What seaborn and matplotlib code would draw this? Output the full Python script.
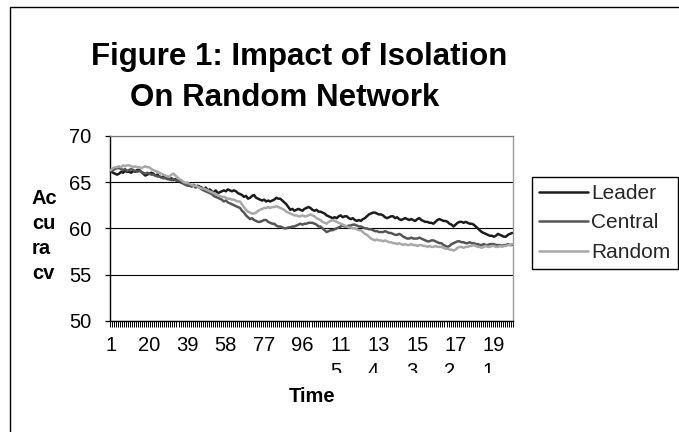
import matplotlib
matplotlib.use("Agg")
import matplotlib.pyplot as plt
import seaborn as sns
import pandas as pd
import numpy as np
from matplotlib.lines import Line2D
from matplotlib.patches import Rectangle
from matplotlib.transforms import Bbox

series_names = ["Leader", "Central", "Random"]
series_colors = ["#1c1c1c", "#555555", "#a8a8a8"]

leader = [
    66.2, 66.0, 65.9, 65.8, 65.9, 66.1, 66.0, 66.2, 66.1, 66.1,
    66.0, 66.2, 66.1, 66.3, 66.3, 66.1, 65.9, 65.7, 65.8, 65.9,
    66.0, 65.9, 65.7, 65.8, 65.6, 65.5, 65.6, 65.4, 65.4, 65.3,
    65.4, 65.2, 65.3, 65.1, 65.1, 64.9, 65.0, 64.8, 64.9, 64.7,
    64.6, 64.7, 64.5, 64.6, 64.5, 64.4, 64.2, 64.4, 64.1, 64.2,
    64.0, 63.9, 64.1, 63.8, 63.9, 64.0, 64.1, 64.0, 64.2, 64.1,
    64.0, 64.1, 64.0, 63.8, 63.7, 63.6, 63.4, 63.5, 63.2, 63.3,
    63.5, 63.6, 63.3, 63.2, 63.1, 63.0, 63.1, 62.9, 63.0, 62.9,
    63.0, 63.1, 63.3, 63.2, 63.2, 63.0, 62.8, 62.6, 62.3, 62.0,
    62.1, 61.9, 62.0, 62.1, 62.0, 61.9, 62.1, 62.2, 62.3, 62.2,
    62.0, 61.9, 62.0, 61.8, 61.8, 61.7, 61.6, 61.4, 61.3, 61.2,
    61.1, 61.2, 61.1, 61.3, 61.4, 61.2, 61.3, 61.3, 61.1, 61.0,
    61.1, 60.9, 60.8, 60.9, 60.8, 61.0, 61.1, 61.3, 61.5, 61.6,
    61.7, 61.7, 61.6, 61.5, 61.5, 61.4, 61.2, 61.1, 61.2, 61.3,
    61.3, 61.1, 61.2, 61.0, 60.9, 61.0, 61.1, 61.0, 60.9, 61.0,
    60.9, 60.8, 61.0, 61.1, 60.9, 60.8, 60.7, 60.7, 60.6, 60.6,
    60.5, 60.7, 60.9, 61.0, 60.9, 60.8, 60.8, 60.7, 60.5, 60.4,
    60.2, 60.4, 60.6, 60.7, 60.7, 60.6, 60.7, 60.6, 60.5, 60.5,
    60.4, 60.2, 60.0, 59.8, 59.6, 59.5, 59.4, 59.3, 59.2, 59.2,
    59.1, 59.2, 59.4, 59.3, 59.2, 59.1, 59.1, 59.3, 59.4, 59.5,
]

central = [
    66.2, 66.3, 66.4, 66.5, 66.5, 66.4, 66.3, 66.4, 66.2, 66.3,
    66.4, 66.3, 66.2, 66.1, 66.2, 66.1, 66.0, 65.9, 66.0, 65.9,
    65.8, 65.8, 65.7, 65.6, 65.6, 65.5, 65.4, 65.5, 65.3, 65.3,
    65.2, 65.3, 65.2, 65.1, 65.2, 65.0, 64.8, 64.7, 64.6, 64.6,
    64.5, 64.6, 64.4, 64.5, 64.4, 64.2, 64.1, 64.0, 63.9, 63.8,
    63.7, 63.5, 63.4, 63.3, 63.2, 63.1, 62.9, 63.0, 62.8, 62.7,
    62.6, 62.5, 62.4, 62.3, 62.2, 61.9, 61.7, 61.4, 61.2, 61.0,
    61.1, 60.9, 60.8, 60.7, 60.7, 60.8, 60.9, 60.9, 60.7, 60.6,
    60.5, 60.5, 60.3, 60.2, 60.2, 60.1, 60.0, 60.0, 60.1, 60.1,
    60.2, 60.2, 60.3, 60.4, 60.5, 60.4, 60.5, 60.5, 60.6, 60.6,
    60.6, 60.5, 60.4, 60.2, 60.2, 60.0, 59.8, 59.6, 59.7, 59.8,
    59.8, 59.9, 60.0, 60.1, 60.2, 60.3, 60.2, 60.2, 60.3, 60.3,
    60.4, 60.4, 60.3, 60.2, 60.2, 60.1, 60.0, 60.0, 59.9, 59.9,
    59.8, 59.7, 59.7, 59.6, 59.6, 59.6, 59.7, 59.6, 59.5, 59.5,
    59.4, 59.3, 59.3, 59.4, 59.3, 59.1, 59.0, 58.9, 58.9, 59.0,
    58.9, 58.9, 58.9, 59.0, 58.9, 58.8, 58.7, 58.6, 58.6, 58.7,
    58.7, 58.6, 58.5, 58.4, 58.4, 58.2, 58.1, 58.0, 58.1, 58.3,
    58.4, 58.5, 58.6, 58.6, 58.5, 58.5, 58.4, 58.4, 58.5, 58.4,
    58.4, 58.3, 58.3, 58.2, 58.2, 58.3, 58.2, 58.2, 58.3, 58.3,
    58.3, 58.2, 58.2, 58.2, 58.1, 58.2, 58.2, 58.3, 58.2, 58.2,
]

random_ = [
    66.3, 66.5, 66.6, 66.6, 66.7, 66.6, 66.8, 66.7, 66.8, 66.8,
    66.7, 66.6, 66.7, 66.6, 66.6, 66.5, 66.6, 66.7, 66.6, 66.6,
    66.4, 66.3, 66.2, 66.1, 66.0, 65.9, 65.8, 65.7, 65.6, 65.6,
    65.8, 65.9, 65.7, 65.5, 65.3, 65.2, 65.0, 64.9, 64.9, 64.8,
    64.7, 64.6, 64.6, 64.5, 64.4, 64.3, 64.3, 64.2, 64.1, 64.0,
    63.9, 63.8, 63.7, 63.6, 63.5, 63.4, 63.4, 63.3, 63.2, 63.2,
    63.1, 63.1, 63.0, 62.9, 62.9, 62.6, 62.3, 62.0, 61.8, 61.7,
    61.6, 61.6, 61.7, 61.9, 62.0, 62.1, 62.2, 62.2, 62.3, 62.2,
    62.3, 62.3, 62.4, 62.3, 62.2, 62.1, 62.0, 61.8, 61.7, 61.6,
    61.5, 61.4, 61.4, 61.3, 61.3, 61.4, 61.3, 61.3, 61.4, 61.5,
    61.4, 61.3, 61.1, 61.0, 60.9, 60.7, 60.6, 60.5, 60.7, 60.8,
    60.9, 60.8, 60.7, 60.6, 60.5, 60.4, 60.3, 60.2, 60.1, 60.1,
    60.0, 60.0, 59.9, 59.8, 59.8, 59.6, 59.4, 59.3, 59.1, 58.9,
    58.8, 58.7, 58.8, 58.7, 58.7, 58.6, 58.7, 58.6, 58.5, 58.5,
    58.4, 58.4, 58.3, 58.4, 58.3, 58.2, 58.3, 58.2, 58.2, 58.3,
    58.2, 58.2, 58.1, 58.2, 58.2, 58.1, 58.1, 58.0, 58.1, 58.0,
    58.0, 58.1, 58.0, 58.0, 58.0, 57.9, 57.8, 57.8, 57.7, 57.7,
    57.6, 57.7, 57.9, 58.0, 58.0, 57.9, 58.0, 58.0, 58.1, 58.1,
    58.2, 58.1, 58.0, 58.0, 57.9, 58.0, 58.1, 58.0, 58.0, 58.1,
    58.1, 58.0, 58.0, 58.1, 58.0, 58.1, 58.1, 58.2, 58.2, 58.3,
]

x_tick_values = [1, 20, 39, 58, 77, 96, 115, 134, 153, 172, 191]
y_ticks = [50, 55, 60, 65, 70]

title_line1 = "Figure 1: Impact of Isolation"
title_line2 = "On Random Network"
y_label = "Ac\ncu\nra\ncv"
x_label = "Time"

# ---------------------------------------------------------------
sns.set_theme(style="white")
plt.rcParams["font.family"] = ["Liberation Sans", "DejaVu Sans"]

n = len(leader)
time = list(range(1, n + 1))
df = pd.concat([
    pd.DataFrame({"Time": time, "Accuracy": vals, "Series": name})
    for name, vals in zip(series_names, [leader, central, random_])
], ignore_index=True)

W, H = 679, 432
fig = plt.figure(figsize=(W / 100, H / 100), dpi=100)
fig.patch.set_facecolor("white")

ax = fig.add_axes([110 / W, 1 - 321 / H, 403 / W, 185.3 / H])
palette = dict(zip(series_names, series_colors))
sns.lineplot(data=df, x="Time", y="Accuracy", hue="Series",
             hue_order=series_names, palette=palette, linewidth=1.8,
             legend=False, ax=ax, zorder=3)

ax.set_xlim(0.5, n + 0.5)
ax.set_ylim(50, 70)
ax.set_yticks(y_ticks)
ax.set_yticklabels([str(v) for v in y_ticks])

def wrap(v):
    s = str(v)
    return s if len(s) <= 2 else s[:2] + "\n" + s[2:]

ax.set_xticks(x_tick_values)
ax.set_xticklabels([wrap(v) for v in x_tick_values], multialignment="left",
                   linespacing=1.45)
ax.set_xticks(np.arange(0.5, n + 1, 1.0), minor=True)

ax.tick_params(axis="x", which="major", length=0, pad=11, labelsize=14.5,
               colors="black")
ax.tick_params(axis="x", which="minor", bottom=True, length=4.5, width=0.7,
               color="black", direction="out")
ax.tick_params(axis="y", which="major", left=True, length=3.6, width=0.9,
               color="black", direction="out", pad=10, labelsize=14.5,
               labelcolor="black")

ax.set_xlabel("")
ax.set_ylabel("")
ax.yaxis.grid(True, color="black", linewidth=0.8)
ax.xaxis.grid(False)
ax.set_axisbelow(True)

for side in ["left", "bottom"]:
    ax.spines[side].set_color("black")
    ax.spines[side].set_linewidth(1.0)
ax.spines["top"].set_color("#7a7a7a")
ax.spines["top"].set_linewidth(0.9)
ax.spines["right"].set_color("#9a9a9a")
ax.spines["right"].set_linewidth(1.0)

# clip the second row of wrapped tick labels like the original
clip = Bbox.from_extents(0, H - 373, W, H)
for lbl in ax.get_xticklabels():
    lbl.set_clip_box(clip)
    lbl.set_clip_on(True)

# titles and axis labels
fig.text(91 / W, 1 - 65 / H, title_line1, fontsize=22.5, fontweight="bold",
         ha="left", va="baseline", color="black")
fig.text(130 / W, 1 - 106 / H, title_line2, fontsize=22.5, fontweight="bold",
         ha="left", va="baseline", color="black")
fig.text(32 / W, 1 - 236 / H, y_label, fontsize=14.5, fontweight="bold",
         ha="left", va="center", linespacing=1.42, color="black")
fig.text(312 / W, 1 - 397 / H, x_label, fontsize=14.5, fontweight="bold",
         ha="center", va="center", color="black")

# legend
handles = [Line2D([0], [0], color=c, linewidth=1.8) for c in series_colors]
leg = ax.legend(handles, series_names, loc="upper left",
                bbox_to_anchor=(531.7 / W, 1 - 176.7 / H),
                bbox_transform=fig.transFigure, borderaxespad=0,
                frameon=True, fancybox=False, shadow=False, framealpha=1,
                edgecolor="black", fontsize=15, handlelength=2.35,
                handletextpad=0.15, labelspacing=0.5, borderpad=0.35)
leg.get_frame().set_linewidth(1.0)

# outer frame
fig.patches.append(Rectangle((9.5 / W, -0.05), 1.1, 1 - 6.5 / H + 0.05,
                             transform=fig.transFigure, fill=False,
                             edgecolor="black", linewidth=1.0))

fig.savefig("out.png", dpi=100, facecolor="white")
